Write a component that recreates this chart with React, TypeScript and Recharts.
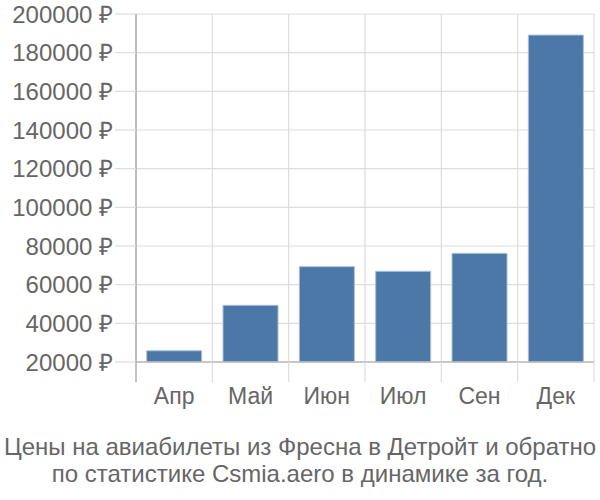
import React from "react";
import { BarChart, Bar, XAxis, YAxis, CartesianGrid } from "recharts";

const months = ["Апр", "Май", "Июн", "Июл", "Сен", "Дек"];
const prices = [25800, 49300, 69300, 66900, 76200, 189100];
const yTicks = [20000, 40000, 60000, 80000, 100000, 120000, 140000, 160000, 180000, 200000];

const data = months.map((m, i) => ({ month: m, price: prices[i] }));

const FONT = "'Liberation Sans', Arial, sans-serif";
const GRID = "#dddddd";
const AXIS = "#aaaaaa";
const TEXT = "#666666";

const W = 600;
const H = 420;
const MARGIN = { top: 14, right: 6, bottom: 0, left: 0 };
const Y_WIDTH = 136;
const PLOT_W = W - MARGIN.left - MARGIN.right - Y_WIDTH;
const BAND = PLOT_W / months.length;

// vertical lines sit on category boundaries, not centres
function boundaryLines({ offset }: any) {
  const out: number[] = [];
  for (let i = 0; i <= months.length; i++) out.push(offset.left + (i * offset.width) / months.length);
  return out;
}

// label plus the short stub that hangs below the axis
function MonthTick(props: any) {
  const { x, y, index, payload } = props;
  const left = x - BAND / 2;
  const right = x + BAND / 2;
  return (
    <g>
      <line x1={left} x2={left} y1={y} y2={y + 20} stroke={index === 0 ? AXIS : GRID} strokeWidth={index === 0 ? 1.4 : 1.2} />
      {index === months.length - 1 && (
        <line x1={right} x2={right} y1={y} y2={y + 20} stroke={GRID} strokeWidth={1.2} />
      )}
      <text x={x} y={y + 26} dy="0.71em" textAnchor="middle" fill={TEXT} fontSize={23} fontFamily={FONT}>
        {payload.value}
      </text>
    </g>
  );
}

export default function App() {
  return (
    <div style={{ position: "absolute", left: 0, top: 0, width: 600, height: 500, background: "#fff", fontFamily: FONT }}>
      <BarChart width={W} height={H} data={data} margin={MARGIN} barCategoryGap="14%">
        <CartesianGrid stroke={GRID} strokeWidth={1.2} verticalCoordinatesGenerator={boundaryLines} />
        <XAxis
          dataKey="month"
          height={58}
          axisLine={{ stroke: "#bbbbbb", strokeWidth: 1.5 }}
          tickLine={false}
          tickSize={0}
          tickMargin={0}
          tick={MonthTick}
          interval={0}
        />
        <YAxis
          width={Y_WIDTH}
          domain={[20000, 200000]}
          ticks={yTicks}
          interval={0}
          tickFormatter={(v: number) => `${v} ₽`}
          axisLine={{ stroke: AXIS, strokeWidth: 1.4 }}
          tickLine={{ stroke: GRID, strokeWidth: 1.2 }}
          tickSize={21}
          tickMargin={2}
          tick={{ fill: TEXT, fontSize: 24, fontFamily: FONT }}
        />
        <Bar
          dataKey="price"
          fill="#4c78a8"
          stroke="#a9bfd8"
          strokeWidth={1}
          isAnimationActive={false}
        />
      </BarChart>
      <div
        style={{
          position: "absolute",
          left: 0,
          top: 433,
          width: 600,
          textAlign: "center",
          color: TEXT,
          fontSize: 24,
          lineHeight: "27px",
          whiteSpace: "nowrap",
        }}
      >
        Цены на авиабилеты из Фресна в Детройт и обратно
        <br />
        по статистике Csmia.aero в динамике за год.
      </div>
    </div>
  );
}
